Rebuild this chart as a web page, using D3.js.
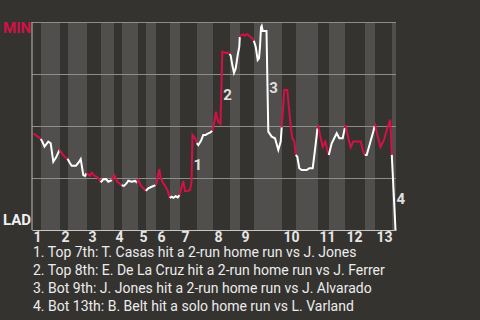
<!DOCTYPE html>
<html>
<head>
<meta charset="utf-8">
<script src="https://cdn.jsdelivr.net/npm/d3@7"></script>
<style>
  html, body { margin: 0; padding: 0; background: #353330; }
  svg { display: block; font-family: Roboto, "DejaVu Sans", sans-serif; }
</style>
</head>
<body>
<div id="chart"></div>
<script>
// length of each half inning (game minutes), top 1st .. bot 13th
const halfLengths = [4.5, 9.5, 4, 9.5, 7, 6.5, 4, 8, 4, 5, 7, 5, 8.5, 8, 8.5, 5, 7, 14, 7, 11, 5.5, 8, 10, 5, 8.5, 2];

// win probability line: game minute and MIN win %
const playTime = [
  0.75, 4.4, 5, 6.25, 8.15, 9.35, 10.65, 12, 13.75,
  15.35, 16.35, 17.75,
  19, 19.85, 22, 23.5, 24.35, 25.65, 26.5, 27.25,
  28.15, 29, 29.85, 31.15, 32.35, 33.5, 34.35,
  35.65, 37, 38.15, 40,
  41.25, 42.65, 43.65, 44.85,
  46, 47.35, 48.15, 49.85, 51.5, 52.65,
  53.25, 54.5, 56.15, 56.9,
  58.15, 59.85, 61.75,
  62.35, 63.15, 63.65, 64.35, 65.65, 66.85, 67.85, 68.85,
  69.85, 70.65, 71.85, 72.85, 73.75,
  74.85, 75.65, 76.5, 77.65, 79, 79.75, 80.25, 81.85, 82.4,
  83.15, 84.5, 85.65, 86.85, 88.15, 89, 90.15,
  90.75, 91.5, 92, 92.35, 93.15, 94.25, 95.15, 96.15, 97, 97.85, 98.75,
  99.35, 100.15, 101, 101.85, 102.85, 103.65, 103.9,
  104.35, 105.65, 106.5, 107.35, 108.15, 109, 110.15, 110.9,
  111.85, 112.85, 113.5, 114, 114.5, 114.85, 115.35, 117.25, 118.15, 119.85, 121.5, 123.15, 124.35, 124.85,
  125.35, 126.15, 127.65, 128.65, 129.35, 130.15, 131.15, 131.9,
  132.65, 133.65, 134.85, 137.35, 138.65, 140.35, 141.5, 142.75,
  143.15, 144, 145.35, 146.65, 147.65, 148.4,
  149.85, 152.35, 153.65, 155.35, 156.4,
  156.75, 158.15, 159.35, 160.65, 164.35, 165.65, 166.4,
  167.35, 169, 170.65, 171.35,
  171.65, 172.65, 174.25, 176, 177.35, 179.15, 179.5, 179.9,
  181.75
];
const minWinPct = [
  46.4, 43.8, 42.8, 40.1, 42.5, 41.7, 32.8, 34.8, 38.5,
  36.4, 35.2, 34.3,
  32.1, 30.9, 30.9, 32.7, 34.1, 26.4, 26.0, 27.3,
  26.8, 26.0, 27.5, 26.1, 25.6, 24.5, 22.9,
  24.4, 24.5, 23.2, 24.0,
  26.2, 23.2, 22.5, 21.5,
  21.2, 22.5, 23.7, 23.2, 23.6, 22.7,
  24.0, 21.2, 19.7, 18.8,
  20.0, 20.8, 21.6,
  22.5, 27.3, 29.3, 24.9, 22.5, 20.8, 18.9, 15.4,
  16.0, 15.5, 16.3, 15.7, 16.8,
  20.8, 23.6, 18.8, 18.8, 19.2, 23.1, 45.7, 43.6, 41.8,
  40.9, 42.9, 45.7, 45.7, 46.5, 46.8, 47.7,
  49.7, 53.7, 56.9, 54.5, 52.1, 51.0, 85.7, 85.4, 85.0, 85.4, 84.6,
  83.8, 79.3, 75.6, 77.7, 84.1, 88.1, 92.8,
  93.4, 94.1, 93.4, 94.1, 93.8, 92.9, 92.2, 91.0,
  88.1, 81.7, 82.5, 88.1, 97.5, 98.1, 95.7, 95.7, 47.3, 44.9, 44.1, 38.5, 42.5, 49.4,
  56.1, 67.3, 67.3, 56.9, 49.7, 44.1, 42.5, 36.1,
  35.2, 29.7, 28.8, 28.8, 29.7, 29.7, 38.5, 48.9,
  49.7, 45.7, 40.0, 42.5, 38.5, 36.1,
  41.7, 46.5, 44.1, 44.1, 49.0,
  50.5, 44.1, 39.8, 42.5, 42.5, 37.6, 36.1,
  36.1, 41.7, 47.3, 50.0,
  50.5, 45.7, 39.9, 43.3, 48.1, 53.1, 45.7, 36.1,
  0
];

// home runs marked on the line (game minute of the play)
const homeRunTimes = [80.25, 95.15, 118.15, 181.75];
const homeRunNotes = [
  "1. Top 7th: T. Casas hit a 2-run home run vs J. Jones",
  "2. Top 8th: E. De La Cruz hit a 2-run home run vs J. Ferrer",
  "3. Bot 9th: J. Jones hit a 2-run home run vs J. Alvarado",
  "4. Bot 13th: B. Belt hit a solo home run vs L. Varland"
];
const teams = ["MIN", "LAD"];
const gridPct = [25, 50, 75, 100];

const width = 480, height = 320;
const margin = {top: 22, right: 84, bottom: 90, left: 32};
const red = "#d31145";

const svg = d3.select("#chart").append("svg")
  .attr("width", width)
  .attr("height", height);

svg.append("rect").attr("width", width).attr("height", height).attr("fill", "#353330");

const starts = Array.from(d3.cumsum([0, ...halfLengths]));
const x = d3.scaleLinear()
  .domain([0, starts[starts.length - 1]])
  .range([margin.left, width - margin.right]);
const y = d3.scaleLinear()
  .domain([0, 100])
  .range([height - margin.bottom, margin.top]);

// shaded bottom halves
svg.append("g").selectAll("rect")
  .data(halfLengths.map((d, i) => i).filter(i => i % 2 === 1))
  .enter().append("rect")
  .attr("x", i => x(starts[i]))
  .attr("width", i => x(starts[i + 1]) - x(starts[i]))
  .attr("y", y(100))
  .attr("height", y(0) - y(100))
  .attr("fill", "#504f4d");

// grid
svg.append("g")
  .attr("transform", "translate(" + margin.left + ",0)")
  .call(d3.axisLeft(y).tickValues(gridPct).tickSize(-(x.range()[1] - x.range()[0])).tickFormat(""))
  .call(g => g.select(".domain").remove())
  .call(g => g.selectAll(".tick line").attr("stroke", "#8e8d8a").attr("stroke-width", 1.2));

svg.append("line")
  .attr("x1", x(0)).attr("x2", x(0))
  .attr("y1", y(100)).attr("y2", y(0))
  .attr("stroke", "#a8a7a4").attr("stroke-width", 1.2);

// inning labels along the bottom
const inningStarts = starts.filter((d, i) => i % 2 === 0 && i < halfLengths.length);
svg.append("g")
  .attr("transform", "translate(0," + y(0) + ")")
  .call(d3.axisBottom(x).tickValues(inningStarts).tickSize(0).tickSizeOuter(0)
    .tickFormat((d, i) => i + 1))
  .call(g => g.select(".domain").attr("stroke", "#c8c7c4").attr("stroke-width", 1.2))
  .call(g => g.selectAll(".tick text")
    .attr("text-anchor", "start")
    .attr("dx", 1)
    .attr("y", 12)
    .attr("dy", 0)
    .attr("fill", "#e6e6e6")
    .style("font-size", "14px")
    .style("font-weight", "bold")
    .style("font-family", "Roboto"));

// win probability line, one piece per half inning
const points = playTime.map((t, i) => ({t: t, p: minWinPct[i]}));
const halfOf = t => Math.min(d3.bisectRight(starts, t) - 1, halfLengths.length - 1);
const line = d3.line().x(d => x(d.t)).y(d => y(d.p));
const pieces = halfLengths.map((d, h) => {
  const idx = points.map((p, i) => i).filter(i => halfOf(points[i].t) === h);
  if (!idx.length) return null;
  const first = idx[0];
  const pts = (first > 0 ? [points[first - 1]] : []).concat(idx.map(i => points[i]));
  return {h: h, pts: pts};
}).filter(d => d);

svg.append("g").selectAll("path")
  .data(pieces)
  .enter().append("path")
  .attr("d", d => line(d.pts))
  .attr("fill", "none")
  .attr("stroke", d => d.h % 2 === 0 ? red : "#ffffff")
  .attr("stroke-width", 2);

// home run markers
svg.append("g").selectAll("text")
  .data(homeRunTimes)
  .enter().append("text")
  .attr("x", t => x(t) + 1)
  .attr("y", t => {
    const i = playTime.indexOf(t);
    return y((minWinPct[i] + minWinPct[i - 1]) / 2) + 12;
  })
  .attr("fill", "#e0e0e0")
  .style("font-size", "15px")
  .style("font-weight", "bold")
  .text((t, i) => i + 1);

// team labels
svg.append("text")
  .attr("x", 3).attr("y", y(100) + 11)
  .attr("fill", red)
  .style("font-size", "15px").style("font-weight", "bold")
  .text(teams[0]);
svg.append("text")
  .attr("x", 3).attr("y", y(0) - 5)
  .attr("fill", "#f0f0f0")
  .style("font-size", "15px").style("font-weight", "bold")
  .text(teams[1]);

// notes
svg.append("g").selectAll("text")
  .data(homeRunNotes)
  .enter().append("text")
  .attr("x", margin.left + 1)
  .attr("y", (d, i) => 257 + i * 18)
  .attr("fill", "#ececec")
  .style("font-size", "14px")
  .text(d => d);
</script>
</body>
</html>
